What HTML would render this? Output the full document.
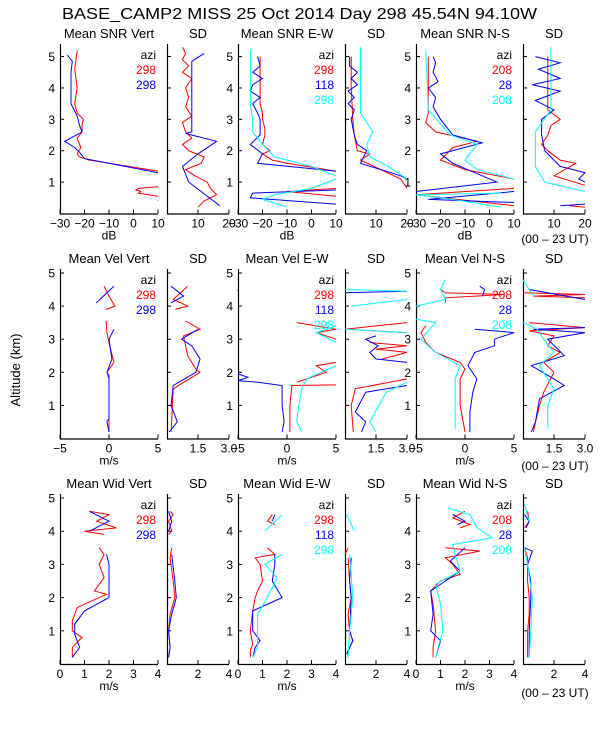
<!DOCTYPE html>
<html><head><meta charset="utf-8"><style>
html,body{margin:0;padding:0;background:#fff}
svg{display:block;font-family:"Liberation Sans",sans-serif}
</style></head><body>
<svg id="chart" width="600" height="750" viewBox="0 0 600 750" xmlns="http://www.w3.org/2000/svg">
<rect width="600" height="750" fill="#fff"/>
<text x="62" y="19" font-size="16" textLength="475" lengthAdjust="spacingAndGlyphs">BASE_CAMP2 MISS  25 Oct 2014 Day 298 45.54N  94.10W</text>
<text transform="translate(20,370) rotate(-90)" font-size="13" text-anchor="middle">Altitude (km)</text>
</svg>
<script>
// ---- layout ----
const panelLefts=[60,167,238,345,416,523];
const panelWidths=[98,62,98,62,98,62];
const rowTops=[44,269,494];
const rowBottoms=[213.5,438.5,664];
const rowAltMax=[5.4,5.12,5.12];
const panelTitles=[["Mean SNR Vert","SD","Mean SNR E-W","SD","Mean SNR N-S","SD"],
["Mean Vel Vert","SD","Mean Vel E-W","SD","Mean Vel N-S","SD"],
["Mean Wid Vert","SD","Mean Wid E-W","SD","Mean Wid N-S","SD"]];
const rowUnits=["dB","m/s","m/s"];
const mainRange=[[-30,10],[-5,5],[0,4]];
const sdRange=[[0,20],[0,3],[0,4]];
const mainTicks=[[-30,-20,-10,0,10],[-5,0,5],[0,1,2,3,4]];
const mainTickLabels=[["\u221230","\u221220","\u221210","0","10"],["\u22125","0","5"],["0","1","2","3","4"]];
const sdTicks=[[10,20],[1.5,3],[2,4]];
const sdTickLabels=[["10","20"],["1.5","3.0"],["2","4"]];
const altTicks=[1,2,3,4,5];
const legendAzi=[["298","298"],["298","118","298"],["208","28","208"]];
const colors=["#ff0000","#0000ff","#00ffff"];
// ---- data: alt arrays & value arrays (null = gap) ----
// Row 1 SNR
const snrVertRedAlt=[5.2,4.6,4.0,3.5,3.2,3.0,2.8,2.6,2.4,2.2,2.1,1.9,1.8,1.7,1.35,null,0.85,0.8,0.75,0.7,0.65,0.6,0.55,null,0.42,0.4];
const snrVertRedVal=[-23,-24,-23,-24,-23,-20.5,-21,-21,-23,-22,-21.5,-23,-22,-18,10,null,10,2,1,3,2,6,10,null,10,10];
const snrVertBlueAlt=[5.05,4.85,4.5,4.0,3.5,3.1,2.8,2.6,2.3,2.1,1.95,1.75,1.3];
const snrVertBlueVal=[-27,-25,-25.5,-25.5,-25.5,-23,-22,-21,-28,-24,-22,-20,10];
const snrVertSdRedAlt=[5.3,5.1,4.9,4.7,4.5,4.3,4.0,3.7,3.4,3.1,2.9,2.6,2.4,2.2,2.0,1.8,1.6,1.4,1.2,1.0,0.8,0.6,0.4,0.2];
const snrVertSdRedVal=[5,6,5,7,5,8,6,7,6,8,5,6,8,5,7,12,11,6,9,13,14,16,12,10];
const snrVertSdBlueAlt=[5.1,4.85,4.0,3.0,2.6,2.55,2.3,1.9,1.5,1.0,0.25];
const snrVertSdBlueVal=[12,8,8,8,8,6,16,10,5,7,17];
const snrEwRedAlt=[5.0,4.5,4.0,3.5,3.2,3.0,2.7,2.5,2.2,2.0,1.9,1.7,1.6,1.35,null,0.8,0.7,0.55];
const snrEwRedVal=[-21,-21,-21,-21,-20,-20,-19,-19,-20,-17,-20,-16,-10,10,null,10,-10,10];
const snrEwBlueAlt=[5.0,4.7,4.5,4.3,4.1,3.9,3.7,3.5,3.2,3.0,2.5,2.2,1.9,1.6,1.35,null,0.75,0.65,0.5,0.3];
const snrEwBlueVal=[-22,-21,-24,-20,-24,-25,-21,-24,-22,-21,-21,-25,-20,-22,10,null,10,-24,-25,10];
const snrEwCyanAlt=[5.2,4.0,3.5,3.0,2.6,2.2,1.8,1.5,1.2,null,1.1,0.8,0.6,0.45,0.2];
const snrEwCyanVal=[-25,-25,-25,-24,-24,-20,-15,0,10,null,10,0,-15,-20,-10];
const snrEwSdRedAlt=[5.0,4.0,3.0,2.5,2.0,1.9,1.7,1.1,0.8];
const snrEwSdRedVal=[2,2,2.5,3,4,8,5,18,20];
const snrEwSdBlueAlt=[5.0,4.7,4.5,4.3,4.1,3.9,3.7,3.5,3.3,3.0,2.5,2.2,2.0,1.6,1.2,1.1];
const snrEwSdBlueVal=[1.5,1.5,4,2,4,1,3,1,3,2,3,4,7,5,18,20];
const snrEwSdCyanAlt=[5.3,3.2,2.6,2.2,1.8,1.5,1.1];
const snrEwSdCyanVal=[5,5,9,7,8,14,20];
const snrNsRedAlt=[5.0,4.0,3.2,2.9,2.6,2.3,2.1,1.7,1.4,1.1,null,0.8,0.6,0.25];
const snrNsRedVal=[-25,-25,-25,-26,-22,-5,-15,-20,-10,10,null,10,-30,10];
const snrNsBlueAlt=[5.0,4.8,4.5,4.2,4.0,3.7,3.4,3.0,2.5,2.25,1.9,1.6,1.0,0.7,null,0.7,0.45,0.35];
const snrNsBlueVal=[-23,-22,-23,-21,-25,-22,-23,-20,-15,-3,-20,-15,3,-30,null,10,-25,10];
const snrNsCyanAlt=[5.2,3.3,2.5,2.2,1.7,1.4,1.1,null,0.65,0.6,0.45,0.2];
const snrNsCyanVal=[-26,-25,-16,-5,-10,-5,10,null,5,-30,-15,5];
const snrNsSdRedAlt=[5.0,3.3,3.0,2.8,2.5,2.2,2.0,1.7,1.6,1.2,0.9,null,0.25,0.2];
const snrNsSdRedVal=[8,8,12,9,8,6,8,12,17,10,20,null,15,20];
const snrNsSdBlueAlt=[5.0,4.8,4.6,4.3,4.1,3.9,3.6,3.3,3.0,2.5,2.0,1.5,1.3,1.1,1.0,null,0.3,0.25];
const snrNsSdBlueVal=[4,12,5,12,3,12,4,10,6,6,7,12,20,18,20,null,20,12];
const snrNsSdCyanAlt=[5.3,3.3,2.6,1.5,1.0,0.7];
const snrNsSdCyanVal=[9,9,4,4,7,20];
// Row 2 Vel
const velVertRedAlt=[4.6,4.3,4.0,3.9,null,3.55,3.2,2.9,2.3,2.0,1.8,0.2];
const velVertRedVal=[-0.5,0,0.6,-0.3,null,-0.3,-0.2,0,0.5,-0.2,0,0];
const velVertBlueAlt=[4.6,4.1,null,3.3,3.0,2.4,2.0,1.9,0.6,0.5,0.2];
const velVertBlueVal=[0.5,-1.3,null,0.5,0,0.3,-0.2,0,0,-0.2,0];
const velVertSdRedAlt=[4.6,4.2,4.0,3.9,null,3.55,3.3,3.1,2.5,2.1,2.0,1.5,0.2];
const velVertSdRedVal=[1,0.3,1,0.4,null,0.9,1.6,0.8,1.0,1.4,1.6,0.3,0.2];
const velVertSdBlueAlt=[4.6,4.3,4.1,null,3.3,3.0,2.8,2.4,2.0,1.6,1.0,0.5,0.2];
const velVertSdBlueVal=[0.2,0.8,0.2,null,1.5,0.7,1.2,1.6,1.4,0.3,0.2,0.5,0.1];
const velEwRedAlt=[3.5,3.3,3.2,3.0,null,2.3,2.2,2.0,1.8,1.7,null,1.62,1.6,1.0,0.2];
const velEwRedVal=[1,5,3,5,null,5,3,4,2,1,null,5,0.5,0.3,0.3];
const velEwBlueAlt=[4.5,4.45,null,1.95,1.85,1.75,1.7,1.6,1.0,0.5,0.2];
const velEwBlueVal=[-5,-5,null,-5,-4,-5,-3,-0.5,-0.5,-0.3,-0.5];
const velEwCyanAlt=[3.4,3.2,2.9,null,2.2,1.8,1.5,1.0,0.5,0.2];
const velEwCyanVal=[5,3,5,null,5,2,1.5,1.2,1.0,1.5];
const velEwSdRedAlt=[3.5,3.3,3.2,null,2.9,2.8,2.7,2.6,2.4,null,1.8,1.5,1.0,0.2];
const velEwSdRedVal=[3,0,3,null,1.2,3,1.5,3,1.8,null,3,0.5,0.3,0.4];
const velEwSdBlueAlt=[4.45,4.4,null,3.1,3.0,2.8,2.6,2.4,2.3,null,1.6,1.4,0.8,0.5,0.2];
const velEwSdBlueVal=[3,0,null,1.5,1.0,1.6,1.2,1.5,3,null,3,1.0,0.5,1,0.8];
const velEwSdCyanAlt=[4.5,4.45,null,4.2,4.0,null,3.3,3.2,null,1.7,1.4,0.5,0.2];
const velEwSdCyanVal=[0,3,null,3,0.3,null,0,3,null,3,2,1.2,1.5];
const velNsRedAlt=[4.5,4.4,4.35,4.25,4.1,null,3.4,3.2,2.9,2.6,2.3,2.1,1.8,1.0,0.2];
const velNsRedVal=[-2.5,-2,4,-2,-2,null,-4,-4.5,-4,-3,-0.5,0,-0.5,-0.5,0];
const velNsBlueAlt=[4.6,4.5,4.3,null,3.3,3.2,3.0,2.8,2.6,2.2,1.8,1.4,0.8,0.2];
const velNsBlueVal=[1.5,2,1.8,null,1,5,3,3,1,0.3,1.2,0.8,0.5,0.5];
const velNsCyanAlt=[4.8,4.5,4.2,4.0,null,3.6,3.5,3.0,2.6,2.2,1.8,1.0,0.3];
const velNsCyanVal=[-2,-2.5,-2,-5,null,-5,-3,-4.5,-3,-0.5,-1,-1,-1];
const velNsSdRedAlt=[4.4,4.35,4.3,4.25,null,3.5,3.35,3.25,3.1,2.8,2.6,2.3,2.0,1.4,1.0,0.2];
const velNsSdRedVal=[0,3,0.5,3,null,0.3,3,0.3,1.5,1.2,1.8,1.0,1.5,1.0,0.8,0.5];
const velNsSdBlueAlt=[4.5,4.2,null,3.35,3.3,3.2,3.0,2.5,2.2,1.8,1.6,1.2,0.5,0.2];
const velNsSdBlueVal=[0.3,3,null,3,0.5,3,1.2,2,0.4,1.5,2,0.8,0.6,0.4];
const velNsSdCyanAlt=[4.8,4.3,null,3.5,3.3,3.0,2.6,2.2,1.5,1.0,0.3];
const velNsSdCyanVal=[0,0.5,null,0,0.7,1,1.5,0.8,1.5,1.2,1.2];
// Row 3 Wid
const widVertRedAlt=[4.6,4.5,4.3,4.1,4.0,3.9,null,3.5,3.3,3.0,2.6,2.2,2.1,1.8,1.7,1.3,1.0,0.8,0.5,0.2];
const widVertRedVal=[1.2,2,1.5,2.3,1,1.8,null,1.6,1.8,1.6,1.8,1.4,1.9,1.0,0.7,0.5,0.5,0.9,0.5,0.5];
const widVertBlueAlt=[4.6,4.3,4.0,null,3.3,3.0,2.6,2.0,1.6,1.2,0.9,0.5,0.2];
const widVertBlueVal=[1.2,2,1.2,null,1.9,2,2,2,1,0.6,0.6,0.8,0.5];
const widVertSdRedAlt=[4.6,4.5,4.3,4.0,3.9,null,3.5,3.2,2.5,2.0,1.5,1.0,0.5,0.2];
const widVertSdRedVal=[0.2,0.4,0.1,0.3,0.1,null,0.3,0.2,0.4,0.5,0.2,0.1,0.2,0.1];
const widVertSdBlueAlt=[4.6,4.3,4.0,null,3.3,2.5,2.0,1.5,1.0,0.5,0.2];
const widVertSdBlueVal=[0.1,0.3,0.1,null,0.3,0.5,0.6,0.3,0.1,0.2,0.1];
const widEwRedAlt=[4.5,4.3,4.2,null,3.5,3.3,3.2,3.0,2.5,2.2,2.0,1.6,1.0,0.6,0.4,0.2];
const widEwRedVal=[1.4,1.2,1.5,null,1.2,1.5,0.7,0.9,1.0,0.8,0.7,0.6,0.5,0.6,0.5,0.5];
const widEwBlueAlt=[4.5,4.3,null,3.3,3.0,2.5,2.0,1.6,1.0,0.7,0.5,0.2];
const widEwBlueVal=[1.5,1.4,null,1.5,1.5,1.4,1.8,0.6,0.6,0.9,0.7,0.6];
const widEwCyanAlt=[4.5,4.0,null,3.3,3.0,2.6,2.0,1.5,1.0,0.5,0.2];
const widEwCyanVal=[1.8,1.1,null,1.8,1.1,1.6,1.2,0.8,0.8,0.8,0.6];
const widEwSdRedAlt=[3.5,3.3,null,3.2,2.5,2.0,1.5,1.0,0.7,0.4,0.2];
const widEwSdRedVal=[0.2,0,null,0.2,0.3,0.4,0.2,0.3,0.5,0.2,0.2];
const widEwSdBlueAlt=[3.2,2.5,2.0,1.0,0.7,0.3];
const widEwSdBlueVal=[0.4,0.3,0.4,0.3,0.5,0.1];
const widEwSdCyanAlt=[4.5,4.0,null,3.3,2.0,1.0,0.2];
const widEwSdCyanVal=[0.1,0.6,null,0.3,0.5,0.3,0.2];
const widNsRedAlt=[4.6,4.4,4.2,4.1,null,3.5,3.4,3.2,3.0,2.7,2.5,2.2,1.8,1.0,0.5,0.2];
const widNsRedVal=[2,1.5,2.2,1.8,null,1.2,2.6,1.2,1.5,1.8,1.0,0.6,0.7,0.8,0.7,0.7];
const widNsBlueAlt=[4.5,4.3,4.2,null,3.5,3.1,2.8,2.5,2.2,1.5,1.0,0.7,0.2];
const widNsBlueVal=[1.5,2,1.7,null,2,1.4,1.8,1.2,0.6,0.7,0.6,1.0,0.8];
const widNsCyanAlt=[4.7,4.5,4.1,3.8,3.6,3.3,2.8,2.4,1.8,1.0,0.5,0.2];
const widNsCyanVal=[1.3,2.2,2.5,3.1,1.5,1.6,1.8,0.8,1.0,1.1,0.9,0.8];
const widNsSdRedAlt=[4.6,4.3,4.1,null,3.5,3.2,2.5,2.0,1.5,1.0,0.5,0.2];
const widNsSdRedVal=[0.3,0.4,0.1,null,0.1,0.3,0.3,0.4,0.4,0.3,0.3,0.3];
const widNsSdBlueAlt=[4.5,4.3,4.1,null,3.5,3.4,3.0,2.5,2.0,1.0,0.5,0.2];
const widNsSdBlueVal=[0.1,0.4,0.2,null,0.1,0.6,0.3,0.5,0.5,0.4,0.4,0.4];
const widNsSdCyanAlt=[4.8,4.3,null,3.5,3.0,2.0,1.0,0.2];
const widNsSdCyanVal=[0.1,0.4,null,0.1,0.3,0.6,0.5,0.4];

const panelSeries=[
 [[[snrVertRedAlt,snrVertRedVal],[snrVertBlueAlt,snrVertBlueVal]],
  [[snrVertSdRedAlt,snrVertSdRedVal],[snrVertSdBlueAlt,snrVertSdBlueVal]],
  [[snrEwRedAlt,snrEwRedVal],[snrEwBlueAlt,snrEwBlueVal],[snrEwCyanAlt,snrEwCyanVal]],
  [[snrEwSdRedAlt,snrEwSdRedVal],[snrEwSdBlueAlt,snrEwSdBlueVal],[snrEwSdCyanAlt,snrEwSdCyanVal]],
  [[snrNsRedAlt,snrNsRedVal],[snrNsBlueAlt,snrNsBlueVal],[snrNsCyanAlt,snrNsCyanVal]],
  [[snrNsSdRedAlt,snrNsSdRedVal],[snrNsSdBlueAlt,snrNsSdBlueVal],[snrNsSdCyanAlt,snrNsSdCyanVal]]],
 [[[velVertRedAlt,velVertRedVal],[velVertBlueAlt,velVertBlueVal]],
  [[velVertSdRedAlt,velVertSdRedVal],[velVertSdBlueAlt,velVertSdBlueVal]],
  [[velEwRedAlt,velEwRedVal],[velEwBlueAlt,velEwBlueVal],[velEwCyanAlt,velEwCyanVal]],
  [[velEwSdRedAlt,velEwSdRedVal],[velEwSdBlueAlt,velEwSdBlueVal],[velEwSdCyanAlt,velEwSdCyanVal]],
  [[velNsRedAlt,velNsRedVal],[velNsBlueAlt,velNsBlueVal],[velNsCyanAlt,velNsCyanVal]],
  [[velNsSdRedAlt,velNsSdRedVal],[velNsSdBlueAlt,velNsSdBlueVal],[velNsSdCyanAlt,velNsSdCyanVal]]],
 [[[widVertRedAlt,widVertRedVal],[widVertBlueAlt,widVertBlueVal]],
  [[widVertSdRedAlt,widVertSdRedVal],[widVertSdBlueAlt,widVertSdBlueVal]],
  [[widEwRedAlt,widEwRedVal],[widEwBlueAlt,widEwBlueVal],[widEwCyanAlt,widEwCyanVal]],
  [[widEwSdRedAlt,widEwSdRedVal],[widEwSdBlueAlt,widEwSdBlueVal],[widEwSdCyanAlt,widEwSdCyanVal]],
  [[widNsRedAlt,widNsRedVal],[widNsBlueAlt,widNsBlueVal],[widNsCyanAlt,widNsCyanVal]],
  [[widNsSdRedAlt,widNsSdRedVal],[widNsSdBlueAlt,widNsSdBlueVal],[widNsSdCyanAlt,widNsSdCyanVal]]]
];

const NS="http://www.w3.org/2000/svg";
const svg=document.getElementById("chart");
function mk(tag,attrs,parent){const e=document.createElementNS(NS,tag);for(const k in attrs)e.setAttribute(k,attrs[k]);(parent||svg).appendChild(e);return e;}
function txt(x,y,s,anchor,fill,parent,size){const t=mk("text",{x:x,y:y,"font-size":size||12,"text-anchor":anchor||"middle",fill:fill||"#000"},parent);t.textContent=s;return t;}

for(let r=0;r<3;r++){
 const top=rowTops[r],bot=rowBottoms[r],amax=rowAltMax[r];
 const yS=a=>bot-(a/amax)*(bot-top);
 for(let p=0;p<6;p++){
  const g=mk("g",{});
  
  
  const L=panelLefts[p],W=panelWidths[p];
  const isSd=p%2===1;
  const rng=isSd?sdRange[r]:mainRange[r];
  const xS=v=>L+(v-rng[0])/(rng[1]-rng[0])*W;
  // title
  const tt=txt(L+W/2,top-6,panelTitles[r][p],"middle","#000",g,13);
  
  
  // axes
  const ax=mk("path",{d:`M${L+0.5},${top} V${bot+0.5} H${L+W}`,stroke:"#000","stroke-width":1.2,fill:"none"},g);
  
  
  // y ticks
  altTicks.forEach(a=>{
   const y=yS(a);
   mk("line",{x1:L,x2:L+4,y1:y,y2:y,stroke:"#000"},g);
   if(!isSd){const yl=txt(L-5,y+4.5,String(a),"end","#000",g,12);
    
    }
  });
  // x ticks
  const ticks=isSd?sdTicks[r]:mainTicks[r], labs=isSd?sdTickLabels[r]:mainTickLabels[r];
  ticks.forEach((v,i)=>{
   const x=xS(v);
   mk("line",{x1:x,x2:x,y1:bot,y2:bot-4,stroke:"#000"},g);
   const xl=txt(x,bot+14,labs[i],"middle","#000",g,12);
   
   
  });
  if(!isSd){const ul=txt(L+W/2,bot+26,rowUnits[r],"middle","#000",g,12);
   
   }
  // series
  panelSeries[r][p].forEach((s,si)=>{
   const alts=s[0],vals=s[1];let d="",pen=false;
   for(let i=0;i<alts.length;i++){
    if(alts[i]===null||vals[i]===null){pen=false;continue;}
    const x=Math.max(L,Math.min(L+W,xS(vals[i]))),y=yS(alts[i]);
    d+=(pen?"L":"M")+x.toFixed(1)+","+y.toFixed(1)+" ";pen=true;
   }
   const pl=mk("path",{d:d,stroke:colors[si],"stroke-width":1,fill:"none"},g);
   
   
  });
  // legend
  if(!isSd){
   const lx=L+W-2;
   const lg=txt(lx,top+15,"azi","end","#000",g,12);
   
   
   const az=legendAzi[p/2];
   az.forEach((a,i)=>{
    const le=txt(lx,top+30+15*i,a,"end",colors[i],g,12);
    
    
   });
  }
 }
 const ut=txt(555,[243,470,697][r],"(00 \u2013 23 UT)","middle","#000",svg,12);
 
 
}
</script>
</body></html>
